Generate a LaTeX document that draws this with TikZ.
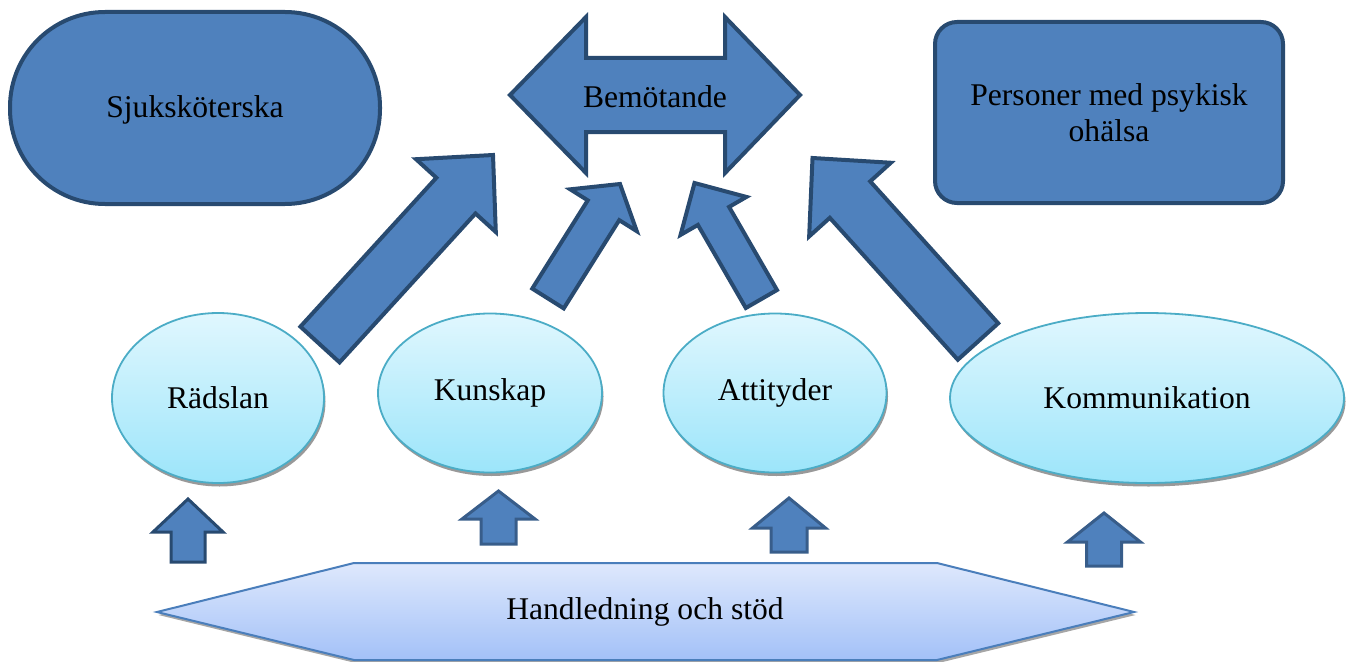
\documentclass[tikz,border=0pt]{standalone}
\usepackage{fontspec}
\setmainfont{Liberation Serif}
\usetikzlibrary{calc,shapes.geometric,shadows}
\definecolor{boxfill}{HTML}{4F81BD}
\definecolor{boxdraw}{HTML}{284A70}
\definecolor{smalldraw}{HTML}{385D8A}
\definecolor{elltop}{HTML}{E0F7FE}
\definecolor{ellbot}{HTML}{9CE5FA}
\definecolor{elldraw}{HTML}{4BACC6}
\definecolor{hextop}{HTML}{DEE8FC}
\definecolor{hexbot}{HTML}{A3C1F8}
\definecolor{hexdraw}{HTML}{4A7EBB}
\newcommand\blockarrow[6]{%
 \coordinate (bh) at ($(#3)!#6!(#2)$);
 \draw[#1] ($(#2)!#4!90:(#3)$) -- ($(bh)!#4!90:(#3)$) -- ($(bh)!#5!90:(#3)$) -- (#3)
   -- ($(bh)!#5!-90:(#3)$) -- ($(bh)!#4!-90:(#3)$) -- ($(#2)!#4!-90:(#3)$) -- cycle;}
\begin{document}
\begin{tikzpicture}[x=1pt,y=-1pt,
  every node/.style={font=\fontsize{31.6}{36}\selectfont, text=black},
  bigshape/.style={fill=boxfill, draw=boxdraw, line width=4pt, line join=miter},
  smallarrow/.style={fill=boxfill, draw=smalldraw, line width=3pt, line join=miter},
  bubble/.style={ellipse, draw=elldraw, line width=1.8pt, top color=elltop, bottom color=ellbot,
    inner sep=0pt, drop shadow={shadow xshift=1.5pt, shadow yshift=-3.5pt, fill=black!40, opacity=1}}]
\useasboundingbox (0,0) rectangle (1348,661);

% top shapes
\node[bigshape, rounded corners=95pt, minimum width=370pt, minimum height=192pt] (sjuk) at (195,108) {};
\node at (195,110) {Sjuksköterska};
\node[bigshape, rounded corners=22pt, minimum width=348pt, minimum height=181pt, align=center] (pers) at (1109,112.5) {Personer med psykisk\\ohälsa};
\draw[bigshape] (510,95) -- (586,17) -- (586,58) -- (725,58) -- (725,17) -- (800,95)
  -- (725,173) -- (725,132) -- (586,132) -- (586,173) -- cycle;
\node (bem) at (655,97) {Bemötande};

% ellipses
\node[bubble, minimum width=212pt, minimum height=170pt] (rad) at (218,398) {Rädslan};
\node[bubble, minimum width=224pt, minimum height=159pt] (kun) at (490,393) {Kunskap};
\node[bubble, minimum width=223pt, minimum height=159pt] (att) at (775,393) {Attityder};
\node[bubble, minimum width=394pt, minimum height=170pt] (kom) at (1147,398) {Kommunikation};

% big arrows to Bemötande
\coordinate (a1t) at (320,344.5); \coordinate (a1h) at (493,155);
\coordinate (a2t) at (548,298.5); \coordinate (a2h) at (620,184);
\coordinate (a3t) at (761.4,299); \coordinate (a3h) at (694.5,183);
\coordinate (a4t) at (978,341.5); \coordinate (a4h) at (812.5,158);
\blockarrow{bigshape}{a1t}{a1h}{26.5pt}{54pt}{55pt}
\blockarrow{bigshape}{a2t}{a2h}{18.6pt}{39.3pt}{31pt}
\blockarrow{bigshape}{a3t}{a3h}{18pt}{38pt}{38pt}
\blockarrow{bigshape}{a4t}{a4h}{27.2pt}{55pt}{56pt}

% hexagon
\path[draw=hexdraw, line width=2pt, top color=hextop, bottom color=hexbot,
  drop shadow={shadow xshift=1.5pt, shadow yshift=-3pt, fill=black!35, opacity=1}]
  (157,612) -- (354,563) -- (937,563) -- (1134,612) -- (937,660) -- (354,660) -- cycle;
\node (hand) at (645,612) {Handledning och stöd};

% small arrows
\coordinate (s1t) at (188,562); \coordinate (s1h) at (188,499);
\coordinate (s2t) at (498.5,544); \coordinate (s2h) at (498.5,491);
\coordinate (s3t) at (789,552); \coordinate (s3h) at (789,498);
\coordinate (s4t) at (1104,566); \coordinate (s4h) at (1104,513);
\blockarrow{smallarrow, draw=boxdraw}{s1t}{s1h}{17pt}{35pt}{33pt}
\blockarrow{smallarrow}{s2t}{s2h}{17.5pt}{36.5pt}{28pt}
\blockarrow{smallarrow}{s3t}{s3h}{18pt}{36.5pt}{30pt}
\blockarrow{smallarrow}{s4t}{s4h}{17.5pt}{36.5pt}{29pt}
\end{tikzpicture}
\end{document}
